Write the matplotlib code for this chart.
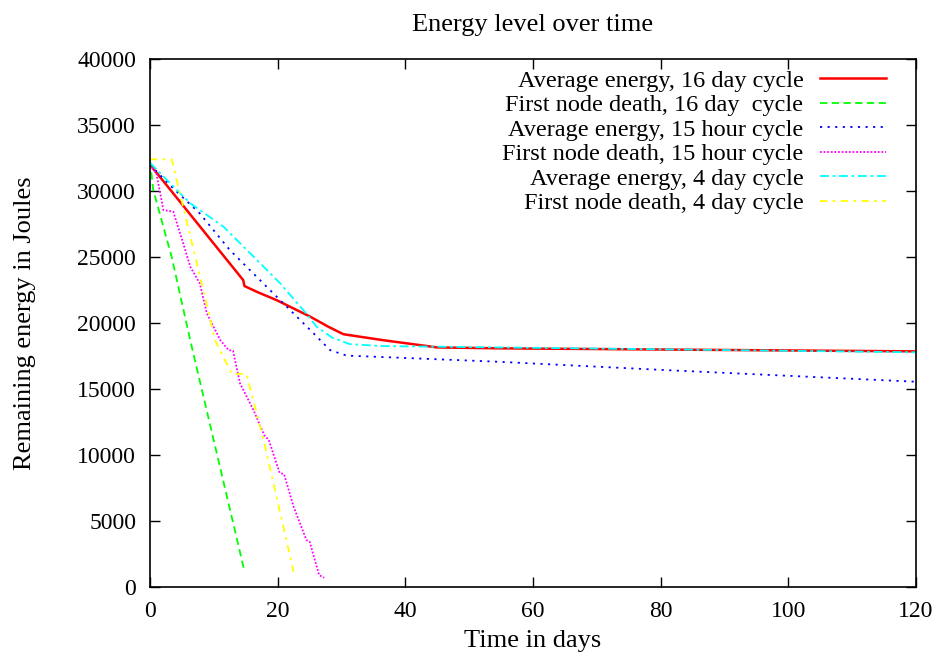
import matplotlib
matplotlib.use('Agg')
from matplotlib import pyplot as plt

plt.rcParams['font.family'] = ['Liberation Serif', 'DejaVu Serif']

# average energy, 16 day cycle
avg16_x = [0, 14.6, 14.8, 16.7, 19.8, 23.0, 25.1, 28.0, 30.3, 36.5, 45.0, 55, 120]
avg16_y = [32000, 23250, 22800, 22370, 21740, 20980, 20480, 19700, 19150, 18700, 18150, 18080, 17850]

# first node death, 16 day cycle
fnd16_x = [0, 0.5, 3.4, 6.3, 14.7]
fnd16_y = [32300, 30100, 25000, 18700, 1400]

# average energy, 15 hour cycle
avg15h_x = [0, 3.1, 7.8, 12.5, 19.3, 25.1, 28.2, 30.8, 54.3, 80, 120]
avg15h_y = [32000, 30450, 28300, 25530, 22250, 19470, 17950, 17530, 17070, 16450, 15550]

# first node death, 15 hour cycle
fnd15h_x = [0, 1.0, 2.1, 3.65, 5.2, 6.3, 7.8, 8.9, 11.0, 12.3, 13.0, 14.1, 16.2,
            17.9, 18.6, 20.3, 21.0, 22.5, 24.5, 25.0, 26.5, 27.3]
fnd15h_y = [32000, 31340, 28560, 28430, 26040, 24270, 23000, 20730, 18710, 17950,
            17900, 15430, 13410, 11500, 11150, 8650, 8550, 6080, 3560, 3450, 900, 700]

# average energy, 4 day cycle
avg4_x = [0, 1.6, 6.3, 11.5, 15.7, 20.4, 24.5, 26.1, 28.5, 31.3, 36.5, 54.8, 120]
avg4_y = [32150, 31340, 29070, 27300, 25280, 23000, 20700, 19720, 18900, 18400, 18250, 18150, 17780]

# first node death, 4 day cycle
fnd4_x = [0, 3.4, 5.2, 8.35, 10.2, 12.8, 15.1, 17.8, 22.5]
fnd4_y = [32400, 32400, 28800, 22500, 18700, 16150, 16150, 11140, 1150]

fig = plt.figure(figsize=(9.39, 6.59), dpi=100)
ax = fig.add_axes([150 / 939, 1 - 587 / 659, 766 / 939, 528 / 659])

lw = 1.3
ax.plot(avg16_x, avg16_y, color='#ff0000', lw=1.8, ls='-',
        label='Average energy, 16 day cycle')
ax.plot(fnd16_x, fnd16_y, color='#00ff00', lw=lw, ls=(0, (4, 2.5)),
        label='First node death, 16 day  cycle')
ax.plot(avg15h_x, avg15h_y, color='#0000ff', lw=lw, ls=(0, (1.2, 3)),
        label='Average energy, 15 hour cycle')
ax.plot(fnd15h_x, fnd15h_y, color='#ff00ff', lw=lw, ls=(0, (1, 1)),
        label='First node death, 15 hour cycle')
ax.plot(avg4_x, avg4_y, color='#00ffff', lw=lw, ls=(0, (5, 2, 1.5, 2)),
        label='Average energy, 4 day cycle')
ax.plot(fnd4_x, fnd4_y, color='#ffff00', lw=lw, ls=(0, (4, 3, 1.5, 3)),
        label='First node death, 4 day cycle')

ax.set_xlim(0, 120)
ax.set_ylim(0, 40000)
ax.set_xticks(range(0, 121, 20))
ax.set_yticks(range(0, 40001, 5000))
ax.tick_params(direction='in', length=7, width=1, top=True, right=True,
               labelsize=17, pad=10)
for s in ax.spines.values():
    s.set_linewidth(1.2)

ax.set_title('Energy level over time', fontsize=19, pad=20)
ax.set_xlabel('Time in days', fontsize=19, labelpad=6)
ax.set_ylabel('Remaining energy in Joules', fontsize=19, labelpad=30)

ax.legend(loc='upper right', bbox_to_anchor=(0.980, 1.007), frameon=False,
          markerfirst=False, fontsize=17.5, handlelength=2.7,
          handletextpad=0.7, labelspacing=0.1, borderaxespad=0.3,
          borderpad=0.3)

fig.savefig('out.png', dpi=100)
